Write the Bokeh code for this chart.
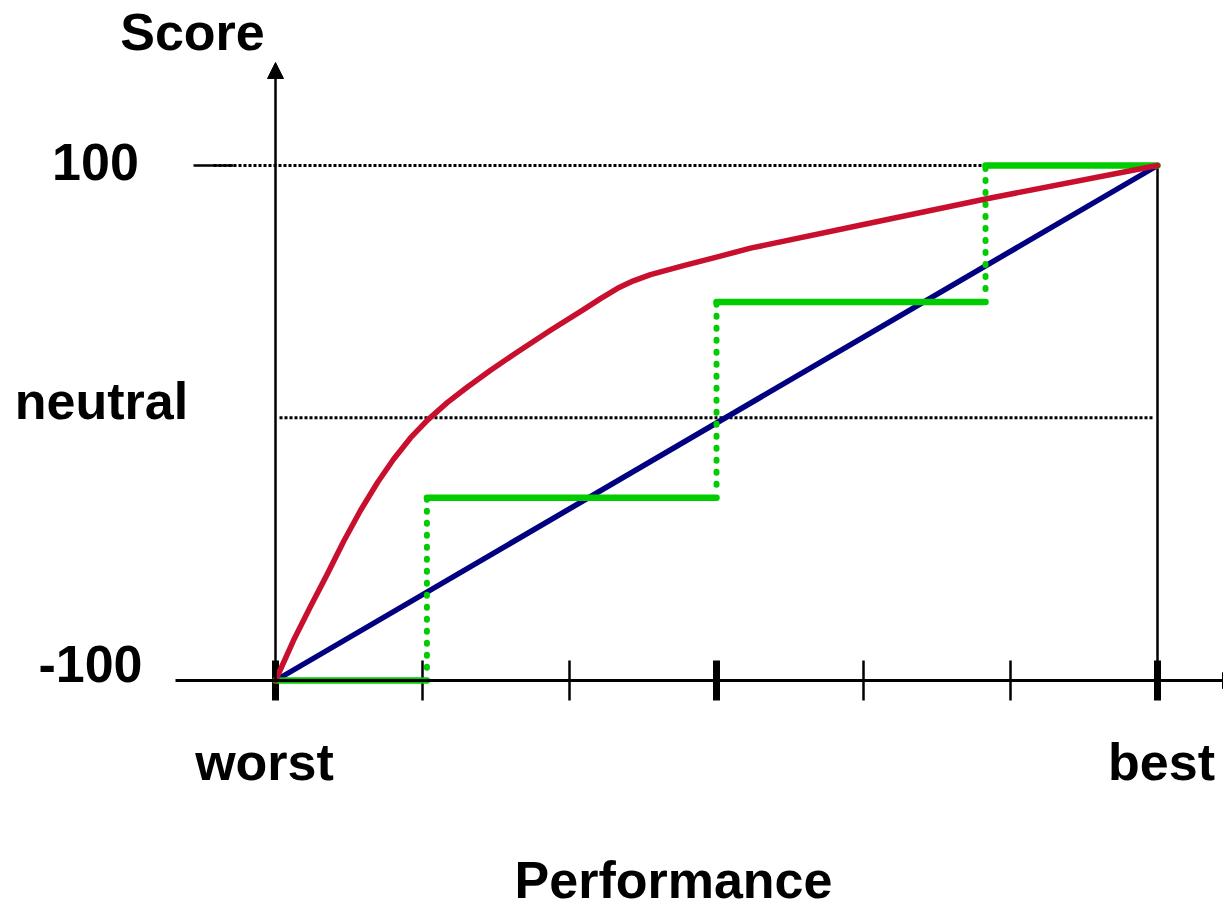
from bokeh.plotting import figure
from bokeh.models import Range1d, Arrow, NormalHead
from bokeh.core.properties import value
from bokeh.embed import file_html
from bokeh.resources import INLINE

# ---------------- data ----------------
perf_ticks = [0, 1, 2, 3, 4, 5, 6]
major_ticks = [0, 3, 6]
minor_ticks = [1, 2, 4, 5]
score_min, score_max = -100, 100
neutral_score = 2

# linear value function (blue)
blue_x = [0, 6]
blue_y = [-100, 100]

# concave value function (red)
red_x = [0, 0.122, 0.238, 0.354, 0.463, 0.578, 0.694, 0.803, 0.918, 1.034, 1.170,
         1.306, 1.463, 1.646, 1.871, 2.095, 2.211, 2.327, 2.435, 2.551, 2.776, 3.007,
         3.231, 4.0, 4.83, 6.0]
red_y = [-100, -84.5, -71.3, -58.5, -46.0, -34.0, -23.1, -14.1, -5.8, 1.1, 8.0,
         14.0, 20.5, 27.6, 36.0, 44.0, 48.3, 52.3, 55.2, 57.6, 61.1, 64.5,
         67.9, 77.1, 87.0, 100]

# step value function (green)
step_edges = [0, 1.03, 3.0, 4.83, 6.0]
step_levels = [-100, -29, 47, 100]

y_labels = ["100", "neutral", "-100"]
y_label_values = [score_max, neutral_score, score_min]
x_labels = ["worst", "best"]
x_label_values = [perf_ticks[0], perf_ticks[-1]]

# ---------------- layout ----------------
W, H = 1223, 910
X0_PX, X_PER = 275, 147.0          # px of performance 0, px per unit
YM_PX, Y_PER = 680, 515 / 200.0    # px of score -100, px per score unit
TXT_SHIFT = -21                    # baseline correction for svg text


def xd(px):
    return (px - X0_PX) / X_PER


def yd(py):
    return score_min + (YM_PX - py) / Y_PER


p = figure(width=W, height=H, output_backend="svg", toolbar_location=None,
           x_range=Range1d(xd(0), xd(W)), y_range=Range1d(yd(H), yd(0)),
           min_border=0, x_axis_type=None, y_axis_type=None)
p.min_border_left = p.min_border_right = p.min_border_top = p.min_border_bottom = 0
p.grid.visible = False
p.outline_line_color = None
p.background_fill_color = "white"
p.border_fill_color = "white"

BLACK = "#000000"
RED = "#C8102E"
BLUE = "#000080"
GREEN = "#00CC00"
FONT = value("Liberation Sans")

# dotted reference lines
p.segment(x0=[xd(213)], x1=[perf_ticks[-1]], y0=[score_max], y1=[score_max],
          line_color=BLACK, line_width=3, line_dash="3 2")
p.segment(x0=[xd(279)], x1=[xd(1153)], y0=[neutral_score], y1=[neutral_score],
          line_color=BLACK, line_width=3, line_dash="3 2")
# short solid tick at 100
p.segment(x0=[xd(193)], x1=[xd(233)], y0=[score_max], y1=[score_max],
          line_color=BLACK, line_width=2.5)
# vertical line at best
p.segment(x0=[perf_ticks[-1]], x1=[perf_ticks[-1]], y0=[score_max], y1=[score_min],
          line_color=BLACK, line_width=2.5)

# axes with arrows
p.add_layout(Arrow(end=NormalHead(size=16, fill_color=BLACK, line_color=BLACK, line_width=1),
                   x_start=0, y_start=score_min, x_end=0, y_end=yd(62),
                   line_color=BLACK, line_width=2.5))
p.add_layout(Arrow(end=NormalHead(size=16, fill_color=BLACK, line_color=BLACK, line_width=1),
                   x_start=xd(175), y_start=score_min, x_end=xd(1238), y_end=score_min,
                   line_color=BLACK, line_width=3))

# x ticks
tick_half = 20 / Y_PER
p.segment(x0=minor_ticks, x1=minor_ticks,
          y0=[score_min - tick_half] * len(minor_ticks), y1=[score_min + tick_half] * len(minor_ticks),
          line_color=BLACK, line_width=2.5)
p.segment(x0=major_ticks, x1=major_ticks,
          y0=[score_min - tick_half] * len(major_ticks), y1=[score_min + tick_half] * len(major_ticks),
          line_color=BLACK, line_width=7)

# blue linear function
p.line(blue_x, blue_y, line_color=BLUE, line_width=5.5, line_cap="round")

# green step function
p.segment(x0=step_edges[:-1], x1=step_edges[1:], y0=step_levels, y1=step_levels,
          line_color=GREEN, line_width=6.5, line_cap="round")
p.segment(x0=step_edges[1:-1], x1=step_edges[1:-1],
          y0=[v + 5 for v in step_levels[:-1]], y1=step_levels[1:],
          line_color=GREEN, line_width=6, line_cap="round", line_dash="1 11")

# red concave function
p.line(red_x, red_y, line_color=RED, line_width=5.5, line_join="round", line_cap="round")

# labels
common = dict(text_font=FONT, text_font_style="bold", text_font_size="52px",
              text_color=BLACK, text_baseline="alphabetic", text_align="center")
p.text(x=[xd(95)] * 3, y=y_label_values, text=y_labels,
       y_offset=[17 + TXT_SHIFT, 4 + TXT_SHIFT, 4 + TXT_SHIFT], x_offset=[0, 6, -5], **common)
p.text(x=x_label_values, y=[score_min] * 2, text=x_labels,
       x_offset=[-11, 4], y_offset=[102 + TXT_SHIFT] * 2, **common)
p.text(x=[xd(192)], y=[yd(52)], text=["Score"], y_offset=[TXT_SHIFT], **common)
p.text(x=[xd(673)], y=[yd(900)], text=["Performance"], y_offset=[TXT_SHIFT], **common)

open("out.html", "w").write(file_html(p, INLINE))
